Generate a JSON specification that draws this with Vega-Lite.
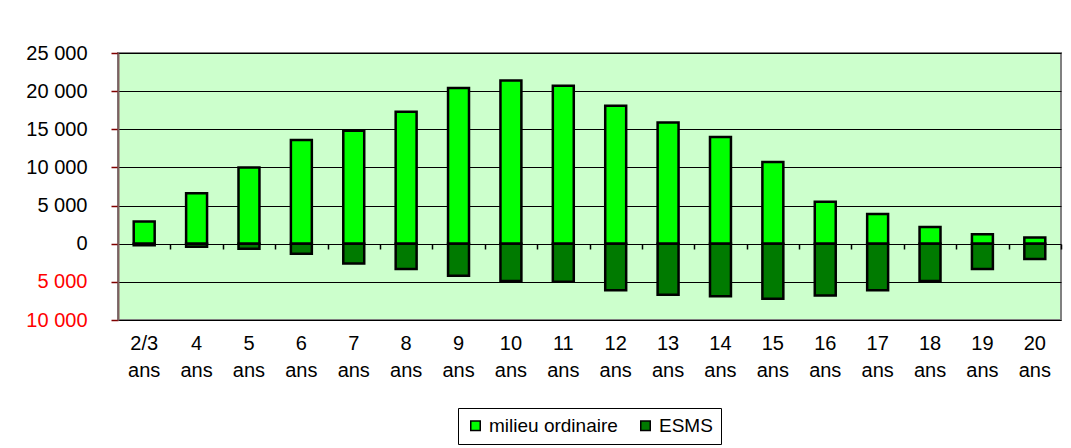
{
  "$schema": "https://vega.github.io/schema/vega-lite/v6.json",
  "width": 943,
  "height": 267,
  "padding": {"left": 18, "top": 43, "right": 10, "bottom": 2},
  "background": "white",
  "config": {
    "font": "Liberation Sans",
    "view": {"fill": "#CCFFCC", "stroke": "#808080", "strokeWidth": 2}
  },
  "data": {
    "values": [
      {"age": "2/3 ans", "serie": "milieu ordinaire", "effectif": 2900},
      {"age": "2/3 ans", "serie": "ESMS", "effectif": -200},
      {"age": "4 ans", "serie": "milieu ordinaire", "effectif": 6600},
      {"age": "4 ans", "serie": "ESMS", "effectif": -400},
      {"age": "5 ans", "serie": "milieu ordinaire", "effectif": 10000},
      {"age": "5 ans", "serie": "ESMS", "effectif": -650},
      {"age": "6 ans", "serie": "milieu ordinaire", "effectif": 13600},
      {"age": "6 ans", "serie": "ESMS", "effectif": -1300},
      {"age": "7 ans", "serie": "milieu ordinaire", "effectif": 14800},
      {"age": "7 ans", "serie": "ESMS", "effectif": -2600},
      {"age": "8 ans", "serie": "milieu ordinaire", "effectif": 17300},
      {"age": "8 ans", "serie": "ESMS", "effectif": -3300},
      {"age": "9 ans", "serie": "milieu ordinaire", "effectif": 20400},
      {"age": "9 ans", "serie": "ESMS", "effectif": -4200},
      {"age": "10 ans", "serie": "milieu ordinaire", "effectif": 21400},
      {"age": "10 ans", "serie": "ESMS", "effectif": -4900},
      {"age": "11 ans", "serie": "milieu ordinaire", "effectif": 20700},
      {"age": "11 ans", "serie": "ESMS", "effectif": -5000},
      {"age": "12 ans", "serie": "milieu ordinaire", "effectif": 18100},
      {"age": "12 ans", "serie": "ESMS", "effectif": -6100},
      {"age": "13 ans", "serie": "milieu ordinaire", "effectif": 15900},
      {"age": "13 ans", "serie": "ESMS", "effectif": -6700},
      {"age": "14 ans", "serie": "milieu ordinaire", "effectif": 14000},
      {"age": "14 ans", "serie": "ESMS", "effectif": -6900},
      {"age": "15 ans", "serie": "milieu ordinaire", "effectif": 10700},
      {"age": "15 ans", "serie": "ESMS", "effectif": -7200},
      {"age": "16 ans", "serie": "milieu ordinaire", "effectif": 5500},
      {"age": "16 ans", "serie": "ESMS", "effectif": -6800},
      {"age": "17 ans", "serie": "milieu ordinaire", "effectif": 3900},
      {"age": "17 ans", "serie": "ESMS", "effectif": -6100},
      {"age": "18 ans", "serie": "milieu ordinaire", "effectif": 2200},
      {"age": "18 ans", "serie": "ESMS", "effectif": -4900},
      {"age": "19 ans", "serie": "milieu ordinaire", "effectif": 1250},
      {"age": "19 ans", "serie": "ESMS", "effectif": -3300},
      {"age": "20 ans", "serie": "milieu ordinaire", "effectif": 800},
      {"age": "20 ans", "serie": "ESMS", "effectif": -2000}
    ]
  },
  "resolve": {"axis": {"x": "independent"}},
  "layer": [
    {
      "mark": {"type": "bar", "stroke": "black", "strokeWidth": 2.5, "strokeJoin": "miter"},
      "encoding": {
        "x": {
          "field": "age",
          "type": "nominal",
          "sort": null,
          "scale": {"paddingInner": 0.6, "paddingOuter": 0.3},
          "axis": {
            "title": null,
            "orient": "bottom",
            "domain": false,
            "ticks": false,
            "labelAngle": 0,
            "labelFontSize": 20,
            "labelColor": "black",
            "labelPadding": 13,
            "labelLineHeight": 27,
            "labelOverlap": false,
            "labelExpr": "split(datum.label, ' ')"
          }
        },
        "y": {
          "field": "effectif",
          "type": "quantitative",
          "stack": null,
          "scale": {"domain": [-10000, 25000], "nice": false, "zero": false},
          "axis": {
            "title": null,
            "values": [-10000, -5000, 0, 5000, 10000, 15000, 20000, 25000],
            "grid": true,
            "gridColor": "black",
            "gridOpacity": 1,
            "gridWidth": 1,
            "domain": true,
            "domainColor": "#806060",
            "domainWidth": 2,
            "tickColor": "#800000",
            "tickSize": 7,
            "tickWidth": 1.5,
            "labelFontSize": 20,
            "labelPadding": 24,
            "labelOverlap": false,
            "labelBound": false,
            "labelFlush": false,
            "labelColor": {"condition": {"test": "datum.value < 0", "value": "#FF0000"}, "value": "black"},
            "labelExpr": "replace(format(abs(datum.value), ','), ',', ' ')",
            "minExtent": 100,
            "maxExtent": 100
          }
        },
        "color": {
          "field": "serie",
          "type": "nominal",
          "scale": {"domain": ["milieu ordinaire", "ESMS"], "range": ["#00FF00", "#007A00"]},
          "legend": {
            "title": null,
            "orient": "none",
            "legendX": 340,
            "legendY": 355,
            "direction": "horizontal",
            "symbolType": "square",
            "symbolSize": 90,
            "symbolStrokeColor": "black",
            "symbolStrokeWidth": 1.5,
            "labelFontSize": 19,
            "labelColor": "black",
            "strokeColor": "black",
            "padding": 8,
            "columnPadding": 18
          }
        }
      }
    },
    {
      "mark": {"type": "bar", "opacity": 0},
      "encoding": {
        "x": {
          "field": "age",
          "type": "nominal",
          "sort": null,
          "axis": {
            "title": null,
            "orient": "bottom",
            "offset": -76,
            "domain": false,
            "labels": false,
            "ticks": true,
            "tickOffset": 26.2,
            "tickColor": "black",
            "tickSize": 5,
            "tickWidth": 1.5
          }
        }
      }
    }
  ]
}
